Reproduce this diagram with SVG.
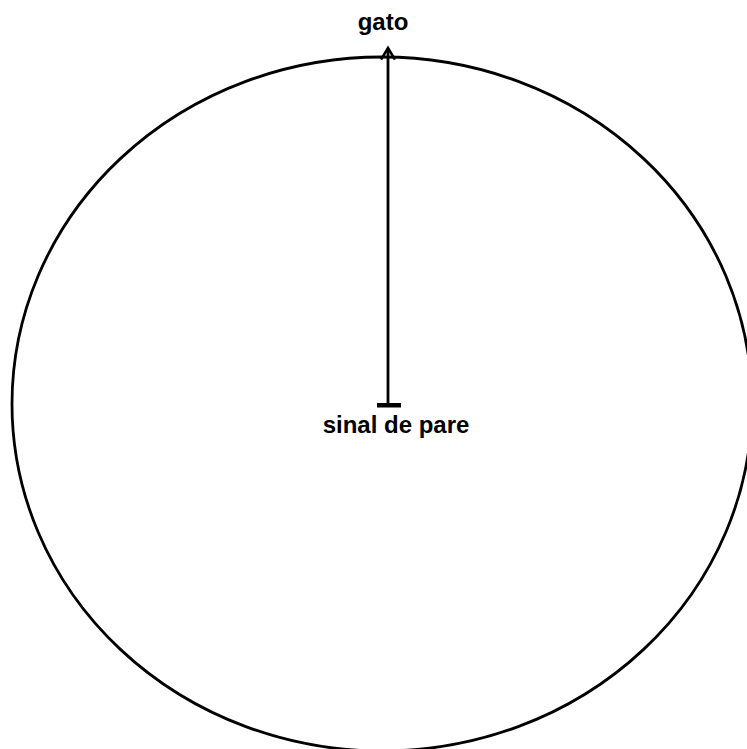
<svg xmlns="http://www.w3.org/2000/svg" width="747" height="749" viewBox="0 0 747 749">
<style>
.line{fill:none;stroke:#000;stroke-width:2.8}
.lbl{font-family:"Liberation Sans",Arial,sans-serif;font-size:24px;font-weight:bold;fill:#000;text-anchor:middle}
</style>
<defs>
<marker id="arr" markerWidth="16" markerHeight="16" refX="13" refY="8" orient="auto" markerUnits="userSpaceOnUse" viewBox="0 0 16 16">
<path d="M1.5,1 L13,8 L1.5,15" fill="none" stroke="#000" stroke-width="2.6"/>
</marker>
</defs>
<rect width="747" height="749" fill="#fff"/>
<g id="circle">
<ellipse class="line" cx="382" cy="404" rx="370" ry="347"/>
</g>
<g id="connectors">
<line class="line" x1="388" y1="405" x2="388" y2="48" marker-end="url(#arr)"/>
<rect x="377" y="403" width="24" height="4.5" fill="#000"/>
</g>
<g id="gato">
<text class="lbl" x="383" y="30">gato</text>
</g>
<g id="sinal">
<text class="lbl" x="396" y="433">sinal de pare</text>
</g>
</svg>
